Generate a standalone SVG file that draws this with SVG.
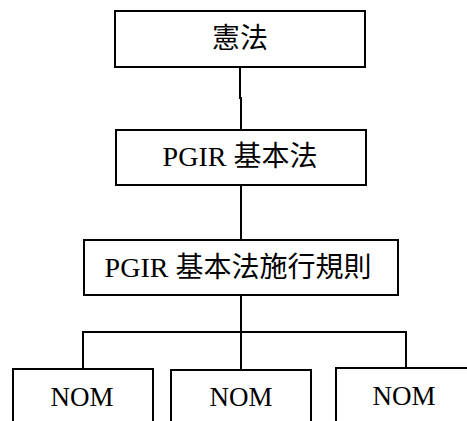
<svg xmlns="http://www.w3.org/2000/svg" width="467" height="421" viewBox="0 0 467 421">
<style>
.box{fill:#fff;stroke:#000;stroke-width:2}
.ln{fill:none;stroke:#000;stroke-width:2}
.t{font-family:"Liberation Serif","Noto Sans CJK TC",serif;font-size:28px;fill:#000;text-anchor:middle}
.n{font-family:"Liberation Serif",serif;font-size:27px;fill:#000;text-anchor:middle}
</style>
<rect width="467" height="421" fill="#fff"/>
<g id="connectors">
<path class="ln" d="M240,67 V98 H241 V130"/>
<path class="ln" d="M241,185 V240"/>
<path class="ln" d="M241,295 V332"/>
<path class="ln" d="M83,369 V332 H406 V368"/>
<path class="ln" d="M241,332 V370"/>
</g>
<g id="n1"><rect class="box" x="115" y="11" width="250" height="56"/><text class="t" x="240" y="48">憲法</text></g>
<g id="n2"><rect class="box" x="116" y="130" width="250" height="55"/><text class="t" x="240" y="166">PGIR 基本法</text></g>
<g id="n3"><rect class="box" x="84" y="240" width="314" height="55"/><text class="t" x="238" y="277">PGIR 基本法施行規則</text></g>
<g id="n4"><rect class="box" x="13" y="369" width="140" height="60"/><text class="n" x="82" y="406">NOM</text></g>
<g id="n5"><rect class="box" x="171" y="370" width="140" height="60"/><text class="n" x="241" y="406">NOM</text></g>
<g id="n6"><rect class="box" x="336" y="368" width="140" height="60"/><text class="n" x="404" y="405">NOM</text></g>
</svg>
